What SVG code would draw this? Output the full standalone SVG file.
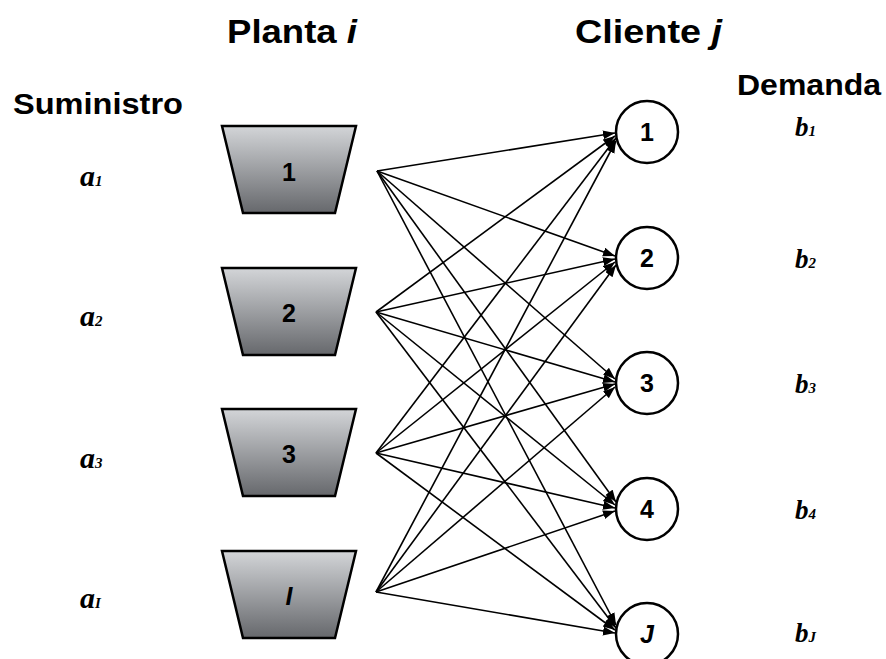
<svg xmlns="http://www.w3.org/2000/svg" width="886" height="659" viewBox="0 0 886 659">
<defs>
<linearGradient id="g" x1="0" y1="0" x2="0" y2="1">
<stop offset="0" stop-color="#d3d5d8"/>
<stop offset="1" stop-color="#66686c"/>
</linearGradient>
<marker id="ah" markerUnits="userSpaceOnUse" markerWidth="13" markerHeight="10" refX="12" refY="4.5" orient="auto">
<path d="M0,0 L12,4.5 L0,9 z" fill="#000"/>
</marker>
<style>
.hd{font-family:"Liberation Sans",Arial,sans-serif;font-weight:bold;fill:#000}
.var{font-family:"Liberation Serif","Times New Roman",serif;font-weight:bold;font-style:italic;fill:#000}
.tz{fill:url(#g);stroke:#000;stroke-width:2.5;stroke-linejoin:miter}
.cl{fill:#fff;stroke:#000;stroke-width:2.5}
.num{font-family:"Liberation Sans",Arial,sans-serif;font-weight:bold;font-size:25px;text-anchor:middle;fill:#000}
.e{stroke:#000;stroke-width:1.6;fill:none;marker-end:url(#ah)}
</style>
</defs>
<rect width="886" height="659" fill="#fff"/>

<g id="headers">
<text class="hd" x="227" y="43" font-size="34" textLength="130" lengthAdjust="spacingAndGlyphs">Planta <tspan font-style="italic">i</tspan></text>
<text class="hd" x="575" y="43" font-size="34" textLength="147" lengthAdjust="spacingAndGlyphs">Cliente <tspan font-style="italic">j</tspan></text>
<text class="hd" x="13" y="114" font-size="30" textLength="170" lengthAdjust="spacingAndGlyphs">Suministro</text>
<text class="hd" x="737" y="95" font-size="30" textLength="144" lengthAdjust="spacingAndGlyphs">Demanda</text>
</g>

<g id="supply">
<text class="var" x="80" y="186" font-size="30">a<tspan font-size="15">1</tspan></text>
<text class="var" x="80" y="326" font-size="30">a<tspan font-size="15">2</tspan></text>
<text class="var" x="80" y="468" font-size="30">a<tspan font-size="15">3</tspan></text>
<text class="var" x="80" y="608" font-size="30">a<tspan font-size="15">I</tspan></text>
</g>

<g id="demand">
<text class="var" x="795" y="136" font-size="27">b<tspan font-size="15">1</tspan></text>
<text class="var" x="795" y="268" font-size="27">b<tspan font-size="15">2</tspan></text>
<text class="var" x="795" y="393" font-size="27">b<tspan font-size="15">3</tspan></text>
<text class="var" x="795" y="519" font-size="27">b<tspan font-size="15">4</tspan></text>
<text class="var" x="795" y="642" font-size="27">b<tspan font-size="15">J</tspan></text>
</g>

<g id="connectors">
<line class="e" x1="377" y1="171" x2="615" y2="133"/>
<line class="e" x1="377" y1="171" x2="615" y2="256"/>
<line class="e" x1="377" y1="171" x2="615" y2="379"/>
<line class="e" x1="377" y1="171" x2="616" y2="502"/>
<line class="e" x1="377" y1="171" x2="616" y2="625"/>
<line class="e" x1="376" y1="312" x2="615" y2="136"/>
<line class="e" x1="376" y1="312" x2="615" y2="259"/>
<line class="e" x1="376" y1="312" x2="615" y2="382"/>
<line class="e" x1="376" y1="312" x2="615" y2="505"/>
<line class="e" x1="376" y1="312" x2="616" y2="628"/>
<line class="e" x1="376" y1="453" x2="616" y2="138"/>
<line class="e" x1="376" y1="453" x2="615" y2="262"/>
<line class="e" x1="376" y1="453" x2="615" y2="384"/>
<line class="e" x1="376" y1="453" x2="615" y2="508"/>
<line class="e" x1="376" y1="453" x2="615" y2="630"/>
<line class="e" x1="376" y1="592" x2="616" y2="141"/>
<line class="e" x1="376" y1="592" x2="616" y2="265"/>
<line class="e" x1="376" y1="592" x2="615" y2="387"/>
<line class="e" x1="376" y1="592" x2="615" y2="511"/>
<line class="e" x1="376" y1="592" x2="615" y2="633"/>
</g>

<g id="plant1">
<polygon class="tz" points="222,126 356,126 335,213 243,213"/>
<text class="num" x="289" y="181">1</text>
</g>
<g id="plant2">
<polygon class="tz" points="222,268 356,268 335,355 243,355"/>
<text class="num" x="289" y="322">2</text>
</g>
<g id="plant3">
<polygon class="tz" points="222,409 356,409 335,496 243,496"/>
<text class="num" x="289" y="463">3</text>
</g>
<g id="plantI">
<polygon class="tz" points="222,551 356,551 335,638 243,638"/>
<text class="num" x="289" y="605" font-style="italic">I</text>
</g>

<g id="client1">
<circle class="cl" cx="647" cy="132" r="31"/>
<text class="num" x="647" y="141">1</text>
</g>
<g id="client2">
<circle class="cl" cx="647" cy="258" r="31"/>
<text class="num" x="647" y="267">2</text>
</g>
<g id="client3">
<circle class="cl" cx="647" cy="383" r="31"/>
<text class="num" x="647" y="392">3</text>
</g>
<g id="client4">
<circle class="cl" cx="647" cy="509" r="31"/>
<text class="num" x="647" y="518">4</text>
</g>
<g id="clientJ">
<circle class="cl" cx="647" cy="634" r="31"/>
<text class="num" x="647" y="643" font-style="italic">J</text>
</g>
</svg>
